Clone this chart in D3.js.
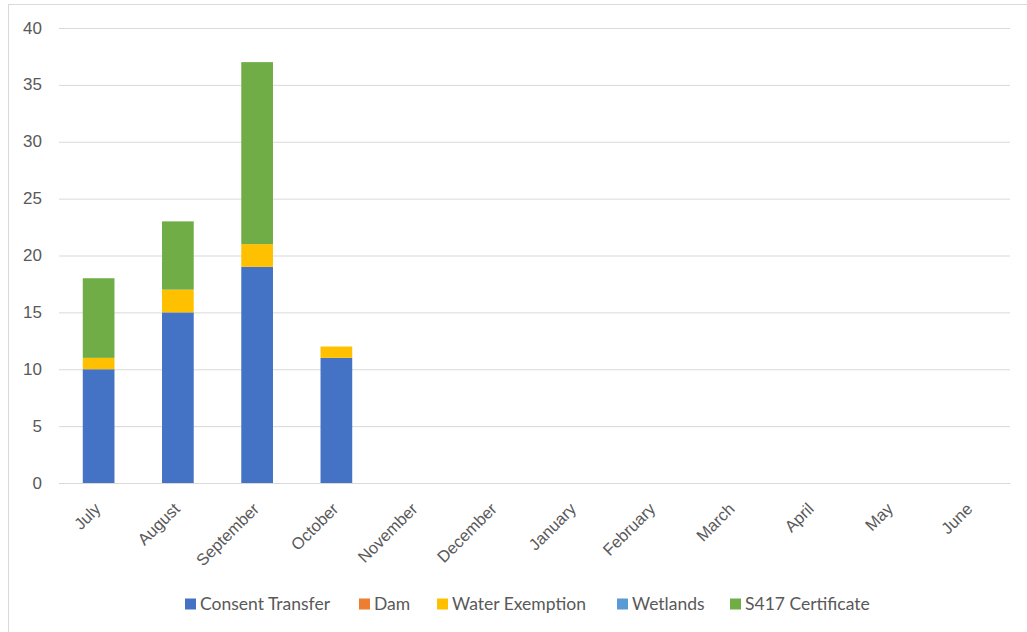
<!DOCTYPE html>
<html><head><meta charset="utf-8">
<script src="https://cdn.jsdelivr.net/npm/d3@7"></script>
<style>body{margin:0;background:#fff;}svg{display:block;font-family:Lato,"Open Sans",sans-serif;}</style>
</head><body>
<svg id="chart" width="1027" height="632"></svg>
<script>
const months = ["July","August","September","October","November","December","January","February","March","April","May","June"];
const seriesNames = ["Consent Transfer","Dam","Water Exemption","Wetlands","S417 Certificate"];
const seriesColors = ["#4472C4","#ED7D31","#FFC000","#5B9BD5","#70AD47"];
const consentTransfer = [10,15,19,11,0,0,0,0,0,0,0,0];
const dam = [0,0,0,0,0,0,0,0,0,0,0,0];
const waterExemption = [1,2,2,1,0,0,0,0,0,0,0,0];
const wetlands = [0,0,0,0,0,0,0,0,0,0,0,0];
const s417 = [7,6,16,0,0,0,0,0,0,0,0,0];
const yTicks = [0,5,10,15,20,25,30,35,40];

const svg = d3.select("#chart");
svg.append("rect").attr("x",8.5).attr("y",4.5).attr("width",1030).attr("height",640)
  .attr("fill","#fff").attr("stroke","#D9D9D9");

const x = d3.scaleBand().domain(months).range([59,1010]).paddingInner(0.6).paddingOuter(0.3);
const y = d3.scaleLinear().domain([0,40]).range([483,28]);

const table = months.map((m,i)=>({month:m,"Consent Transfer":consentTransfer[i],"Dam":dam[i],"Water Exemption":waterExemption[i],"Wetlands":wetlands[i],"S417 Certificate":s417[i]}));
const stack = d3.stack().keys(seriesNames)(table);

// gridlines
const yAxis = d3.axisLeft(y).tickValues(yTicks).tickSize(-(1010-59)).tickPadding(17);
const gy = svg.append("g").attr("transform","translate(59,0)").call(yAxis);
gy.select(".domain").remove();
gy.selectAll(".tick line").attr("stroke","#D9D9D9").attr("stroke-width",1);
gy.selectAll(".tick text").attr("fill","#595959").style("font-size","17px").attr("dy","0.3em");

// bars
stack.forEach((s,k)=>{
  svg.append("g").attr("fill",seriesColors[k]).selectAll("rect").data(s).join("rect")
    .attr("x",d=>x(d.data.month)).attr("width",x.bandwidth())
    .attr("y",d=>y(d[1])).attr("height",d=>y(d[0])-y(d[1]));
});

// x axis
const xAxis = d3.axisBottom(x).tickSize(0).tickPadding(0);
const gx = svg.append("g").attr("transform","translate(0,483)").call(xAxis);
gx.select(".domain").attr("stroke","#D9D9D9");
gx.selectAll(".tick text").attr("fill","#595959").style("font-size","16.5px")
  .attr("text-anchor","end").attr("dy",0).attr("transform","translate(3,27) rotate(-45)");

// legend
const legendX = [185,359,437,617,730];
const lg = svg.append("g");
seriesNames.forEach((n,i)=>{
  lg.append("rect").attr("x",legendX[i]).attr("y",598.5).attr("width",11).attr("height",11).attr("fill",seriesColors[i]);
  lg.append("text").attr("x",legendX[i]+15).attr("y",609.5).attr("fill","#595959").style("font-size","17.5px").text(n);
});
</script>
</body></html>
